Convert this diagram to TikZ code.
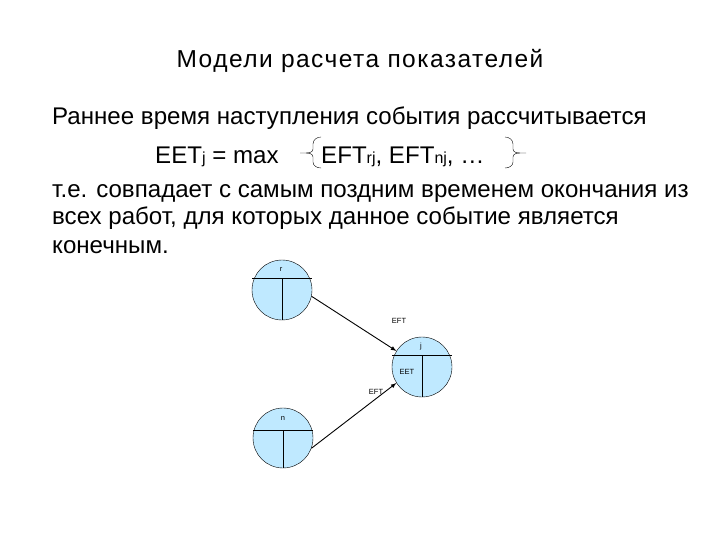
\documentclass[tikz,border=0pt]{standalone}
\usepackage{fontspec}
\setmainfont{Liberation Sans}
\begin{document}
\begin{tikzpicture}[x=1pt,y=-1pt,
  txt/.style={anchor=base west,inner sep=0pt,font=\fontsize{24.1}{28}\selectfont},
  ev/.style={circle,draw,fill=blue!35!cyan!25!white,minimum size=60pt,inner sep=0pt},
  sm/.style={inner sep=0pt,font=\fontsize{7.5}{9}\selectfont},
  arr/.style={-latex,line width=0.9pt}]
\useasboundingbox (0,0) rectangle (720,540);
\node[inner sep=0pt,anchor=base,font=\fontsize{24.5}{28}\selectfont\addfontfeature{LetterSpace=6}] (title) at (360,68) {Модели расчета показателей};
\node[txt] (l1) at (52,125) {Раннее время наступления события рассчитывается};
\node[txt] (l2) at (155,164) {EET{\fontsize{16}{18}\selectfont j} = max};
\node[txt] (l2b) at (321,164) {EFT{\fontsize{16}{18}\selectfont rj}, EFT{\fontsize{16}{18}\selectfont nj}, …};
\node[txt] (l3) at (52,197) {т.е. совпадает с самым поздним временем окончания из};
\node[txt] (l4) at (52,225) {всех работ, для которых данное событие является};
\node[txt] (l5) at (52,253) {конечным.};
\draw (321,137) to[out=180,in=90] (313,144) -- (313,149) to[out=-90,in=0] (306,153) -- (300,153);
\draw (306,153) to[out=0,in=90] (313,157) -- (313,162) to[out=-90,in=180] (321,168);
\draw (505,137) to[out=0,in=90] (513,144) -- (513,149) to[out=-90,in=180] (520,153) -- (526,153);
\draw (520,153) to[out=180,in=90] (513,157) -- (513,162) to[out=-90,in=0] (505,168);
\node[ev] (r) at (282,290) {};
\node[ev] (j) at (422,367) {};
\node[ev] (n) at (283,438) {};
\draw (252,278) -- (312,278);
\draw (282,278) -- (r.south);
\draw (392,355) -- (452,355);
\draw (422,355) -- (j.south);
\draw (253,430) -- (313,430);
\draw (283,430) -- (n.south);
\node[sm] (rl) at (281,269) {r};
\node[sm] (jl) at (421,347) {j};
\node[sm] (nl) at (283,418) {n};
\node[sm] (eet) at (407,372) {EET};
\node[sm] (e1) at (399,321) {EFT};
\node[sm] (e2) at (376,392) {EFT};
\draw[arr] (r.-12) -- (j.148);
\draw[arr] (n.-20) -- (j.212);
\end{tikzpicture}
\end{document}
